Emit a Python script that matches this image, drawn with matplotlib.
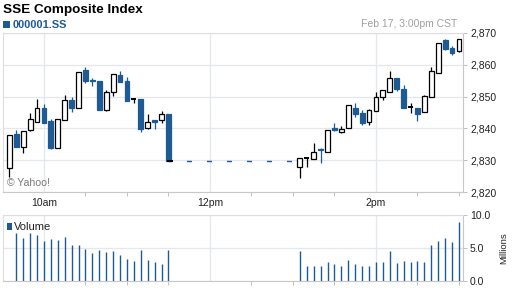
import matplotlib
matplotlib.use("Agg")
import matplotlib.pyplot as plt
from matplotlib.patches import Rectangle

plt.rcParams['font.family'] = ['Liberation Sans', 'DejaVu Sans']

BLUE = '#1e5a94'
GRID = '#e3e7ee'
TXT = '#222222'

# ---------------- data ----------------
am_times = ["09:35", "09:40", "09:45", "09:50", "09:55", "10:00", "10:05", "10:10",
            "10:15", "10:20", "10:25", "10:30", "10:35", "10:40", "10:45", "10:50",
            "10:55", "11:00", "11:05", "11:10", "11:15", "11:20", "11:25", "11:30"]
am_open = [2827.4, 2838.3, 2834.3, 2839.6, 2842.1, 2846.3, 2842.2, 2833.8, 2842.5, 2848.8,
           2846.5, 2858.5, 2855.1, 2854.9, 2845.8, 2851.3, 2856.8, 2854.9, 2849.4, 2849.2,
           2840.2, 2842.5, 2842.6, 2844.6]
am_high = [2838.0, 2839.6, 2839.3, 2844.7, 2849.2, 2847.6, 2843.0, 2843.0, 2850.5, 2849.9,
           2857.7, 2859.3, 2855.9, 2854.9, 2852.2, 2857.0, 2858.2, 2856.1, 2849.7, 2849.2,
           2844.4, 2842.5, 2845.5, 2844.6]
am_low = [2824.8, 2834.1, 2832.2, 2839.1, 2842.1, 2841.8, 2833.5, 2833.8, 2842.5, 2845.2,
          2846.5, 2854.2, 2853.4, 2845.8, 2845.5, 2850.2, 2854.5, 2848.7, 2848.1, 2838.9,
          2839.9, 2839.9, 2841.8, 2829.6]
am_close = [2838.0, 2834.1, 2839.3, 2843.0, 2846.5, 2841.8, 2833.8, 2843.0, 2848.8, 2846.5,
            2857.7, 2855.0, 2854.9, 2845.8, 2851.3, 2857.0, 2854.5, 2848.7, 2849.4, 2839.9,
            2842.1, 2842.0, 2844.6, 2829.6]

pm_times = ["13:05", "13:10", "13:15", "13:20", "13:25", "13:30", "13:35", "13:40",
            "13:45", "13:50", "13:55", "14:00", "14:05", "14:10", "14:15", "14:20",
            "14:25", "14:30", "14:35", "14:40", "14:45", "14:50", "14:55", "15:00"]
pm_open = [2828.0, 2830.6, 2830.3, 2833.5, 2832.5, 2840.1, 2838.8, 2840.0, 2846.5, 2844.9,
           2842.0, 2845.4, 2849.9, 2851.6, 2856.0, 2852.5, 2846.7, 2846.5, 2845.2, 2849.9,
           2857.5, 2867.7, 2865.4, 2864.4]
pm_high = [2830.6, 2830.6, 2835.4, 2833.7, 2839.6, 2841.8, 2840.7, 2847.5, 2848.1, 2845.7,
           2846.0, 2851.3, 2852.0, 2858.1, 2856.0, 2853.6, 2848.1, 2846.5, 2850.6, 2859.2,
           2866.9, 2868.1, 2865.9, 2868.2]
pm_low = [2824.3, 2828.0, 2830.3, 2829.2, 2832.5, 2839.1, 2838.4, 2840.0, 2843.6, 2841.1,
          2841.1, 2845.4, 2848.9, 2851.6, 2851.8, 2846.4, 2844.9, 2842.3, 2845.2, 2849.9,
          2857.5, 2864.7, 2863.2, 2864.0]
pm_close = [2830.6, 2830.6, 2832.7, 2833.2, 2839.6, 2839.6, 2839.8, 2847.5, 2844.6, 2841.7,
            2845.7, 2850.0, 2852.0, 2856.0, 2852.3, 2846.4, 2846.7, 2844.6, 2850.2, 2858.0,
            2866.9, 2865.1, 2863.8, 2868.2]

vol_am_times = am_times[1:]
vol_am = [7.2, 6.5, 7.2, 6.9, 6.1, 6.4, 6.2, 6.7, 5.5, 5.5, 4.9, 4.2, 4.7, 4.4, 4.6, 4.0,
          3.4, 3.0, 4.7, 3.2, 2.9, 2.6, 4.7]
vol_pm_times = pm_times
vol_pm = [4.5, 2.3, 2.3, 2.2, 2.9, 2.6, 2.2, 3.2, 2.6, 2.2, 2.2, 2.9, 2.9, 4.5, 2.8, 3.1,
          2.9, 3.1, 2.9, 5.4, 6.0, 6.5, 5.9, 9.0]

lunch_times = ["11:30", "13:00"]
lunch_level = 2829.6

price_ticks = [2820, 2830, 2840, 2850, 2860, 2870]
price_labels = ["2,820", "2,830", "2,840", "2,850", "2,860", "2,870"]
vol_ticks = [0, 5, 10]
vol_labels = ["0.0", "5.0", "10.0"]
major_times = ["10:00", "12:00", "14:00"]
major_labels = ["10am", "12pm", "2pm"]
minor_times = ["10:30", "11:00", "11:30", "12:30", "13:00", "13:30", "14:30", "15:00"]


def tmin(s):
    h, m = s.split(":")
    return int(h) * 60 + int(m)


# ---------------- figure ----------------
fig = plt.figure(figsize=(5.12, 2.88), dpi=100)
W, H = 512, 288


def axes_px(x0, y0, x1, y1):
    return fig.add_axes([x0 / W, 1 - y1 / H, (x1 - x0) / W, (y1 - y0) / H])


ax = axes_px(3, 33, 463, 192)
axv = axes_px(3, 215, 463, 281)

XL = (570.4, 902.9)

for a in (ax, axv):
    a.set_xlim(*XL)
    a.set_xticks([tmin(t) for t in major_times])
    a.set_xticks([tmin(t) for t in minor_times], minor=True)
    a.grid(True, which='major', color=GRID, linewidth=0.9)
    a.set_axisbelow(True)
    a.yaxis.tick_right()
    for s in ('left', 'top'):
        a.spines[s].set_color('#dddddd')
        a.spines[s].set_linewidth(0.8)
    for s in ('right', 'bottom'):
        a.spines[s].set_color('#c8c8c8')
        a.spines[s].set_linewidth(0.8)
    a.tick_params(axis='both', which='both', colors='#c0c0c0', labelcolor=TXT,
                  labelsize=7.5, length=3, width=0.7, pad=2)

ax.set_ylim(2820, 2870)
ax.set_yticks(price_ticks)
ax.set_yticklabels(price_labels)
ax.set_xticklabels(major_labels)
ax.tick_params(axis='x', which='major', length=0, pad=4)

axv.set_ylim(0, 10)
axv.set_yticks(vol_ticks)
axv.set_yticklabels(vol_labels)
axv.set_xticklabels([])
axv.tick_params(axis='x', which='major', length=0)

# candles
BW = 3.5
def draw(times, o, h, l, c):
    for t, oo, hh, ll, cc in zip(times, o, h, l, c):
        x = tmin(t)
        if cc > oo:
            ax.vlines(x, ll, hh, color='black', linewidth=0.9, zorder=2)
            ax.add_patch(Rectangle((x - BW / 2, oo), BW, cc - oo, facecolor='white',
                                   edgecolor='black', linewidth=0.9, zorder=3))
        elif cc < oo:
            ax.vlines(x, ll, hh, color=BLUE, linewidth=0.9, zorder=2)
            ax.add_patch(Rectangle((x - BW / 2, cc), BW, oo - cc, facecolor=BLUE,
                                   edgecolor=BLUE, linewidth=0.9, zorder=3))
        else:
            ax.vlines(x, ll, hh, color='black', linewidth=0.9, zorder=2)
            ax.hlines(cc, x - BW / 2, x + BW / 2, color='black', linewidth=1.4, zorder=3)


draw(am_times, am_open, am_high, am_low, am_close)
draw(pm_times, pm_open, pm_high, pm_low, pm_close)

# lunch break dashed line
ax.plot([tmin(t) for t in lunch_times], [lunch_level] * 2, color=BLUE, linewidth=1.0,
        linestyle=(1.1, (3.6, 10.8)), zorder=1)
ax.hlines(lunch_level, tmin(lunch_times[0]) - 1.2, tmin(lunch_times[0]) + 3.0,
          color='black', linewidth=1.4, zorder=4)

# volume
axv.vlines([tmin(t) for t in vol_am_times], 0, vol_am, color=BLUE, linewidth=1.0)
axv.vlines([tmin(t) for t in vol_pm_times], 0, vol_pm, color=BLUE, linewidth=1.0)

# texts
fig.text(3 / W, 1 - 10 / H, "SSE Composite Index", fontsize=9.7, fontweight='bold',
         color='black', va='center', ha='left')
fig.patches.append(Rectangle((3 / W, 1 - 28 / H), 7 / W, 7 / H, transform=fig.transFigure,
                             facecolor=BLUE, edgecolor='none'))
fig.text(12.5 / W, 1 - 24.5 / H, "000001.SS", fontsize=7.9, fontweight='bold',
         color=BLUE, va='center', ha='left')
fig.text(457 / W, 1 - 24 / H, "Feb 17, 3:00pm CST", fontsize=7.5, color='#a0a0a0',
         va='center', ha='right')
fig.text(7 / W, 1 - 183 / H, "\u00a9 Yahoo!", fontsize=7.6, color='#7a7a7a',
         va='center', ha='left')

fig.patches.append(Rectangle((7 / W, 1 - 229.5 / H), 4.5 / W, 7 / H, transform=fig.transFigure,
                             facecolor=BLUE, edgecolor='none'))
fig.text(13.5 / W, 1 - 227 / H, "Volume", fontsize=8, color=TXT, va='center', ha='left')
fig.text(504 / W, 1 - 248 / H, "Millions", fontsize=6.8, color=TXT, rotation=90,
         va='center', ha='center')

fig.savefig("out.png", dpi=100)
